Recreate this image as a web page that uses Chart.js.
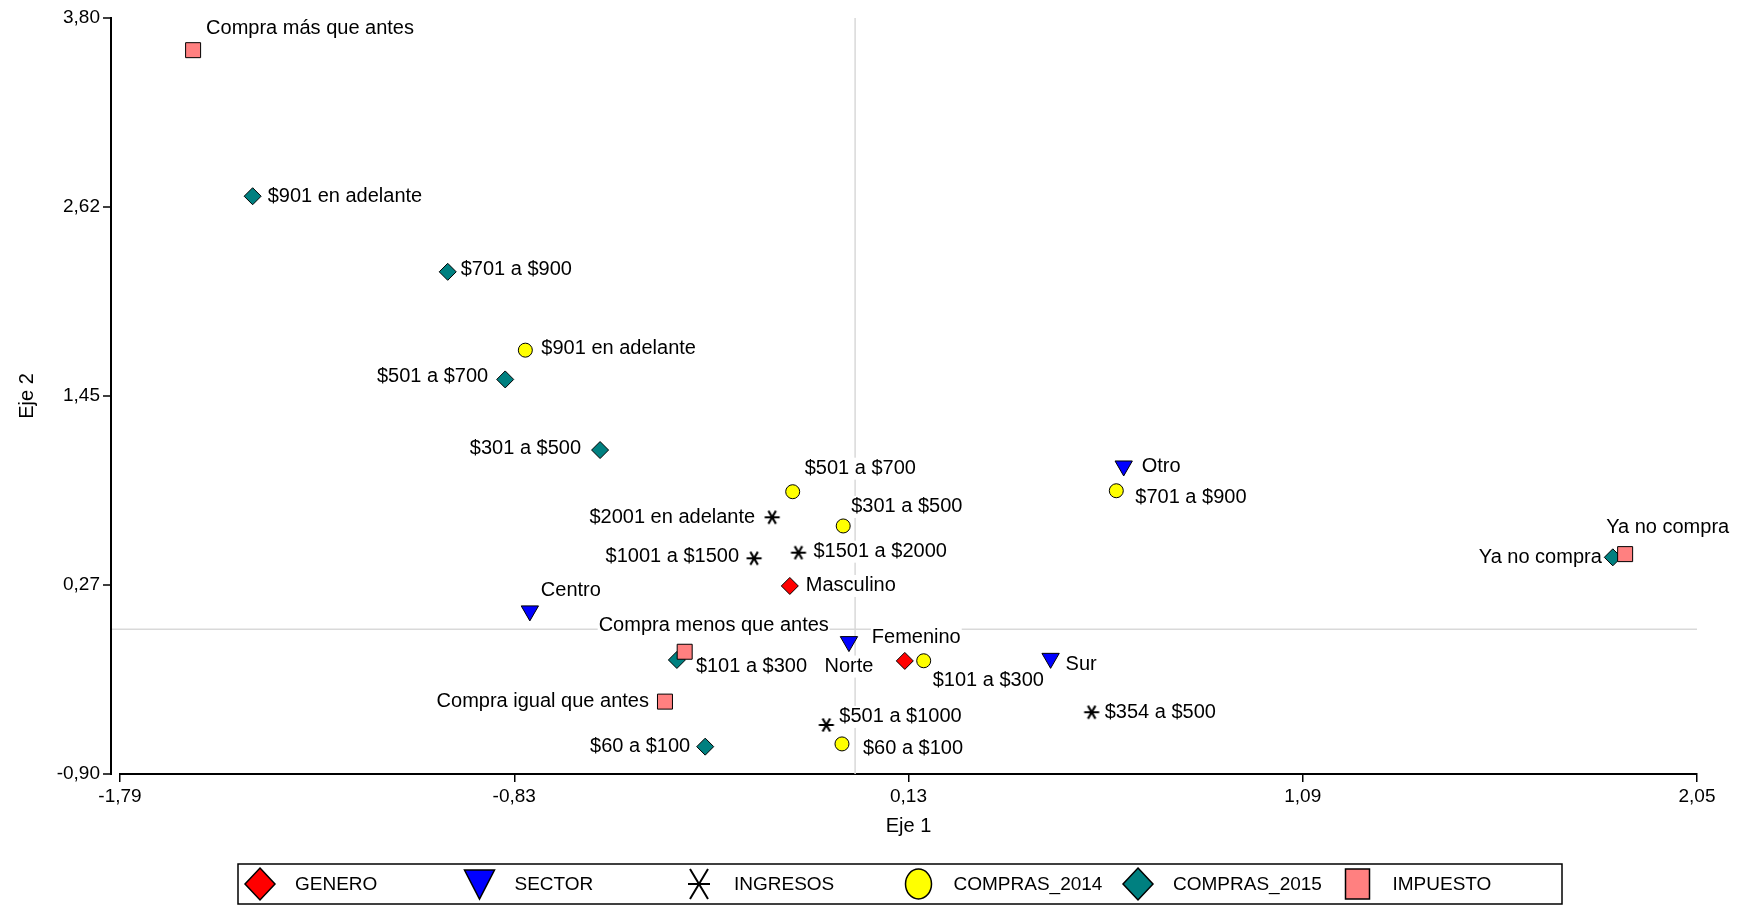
<!DOCTYPE html>
<html><head><meta charset="utf-8">
<script src="https://cdn.jsdelivr.net/npm/chart.js@4.4.0/dist/chart.umd.min.js"></script>
<style>html,body{margin:0;padding:0;background:#fff;} canvas{display:block;}</style>
</head><body>
<canvas id="c" width="1746" height="905"></canvas>
<script>
// ---------- axis ticks ----------
const xTickValues = [-1.79, -0.83, 0.13, 1.09, 2.05];
const xTickLabels = ['-1,79', '-0,83', '0,13', '1,09', '2,05'];
const yTickValues = [-0.90, 0.275, 1.45, 2.625, 3.80];
const yTickLabels = ['-0,90', '0,27', '1,45', '2,62', '3,80'];

// ---------- series ----------
const seriesNames = ['GENERO', 'SECTOR', 'INGRESOS', 'COMPRAS_2014', 'COMPRAS_2015', 'IMPUESTO'];

const generoCategories = ['Masculino', 'Femenino'];
const generoX = [-0.159, 0.121];
const generoY = [0.269, -0.197];

const sectorCategories = ['Otro', 'Centro', 'Norte', 'Sur'];
const sectorX = [0.654, -0.792, -0.015, 0.476];
const sectorY = [1.015, 0.114, -0.077, -0.181];

const ingresosCategories = ['$2001 en adelante', '$1001 a $1500', '$1501 a $2000', '$501 a $1000', '$354 a $500'];
const ingresosX = [-0.202, -0.246, -0.138, -0.070, 0.576];
const ingresosY = [0.696, 0.441, 0.476, -0.595, -0.516];

const compras2014Categories = ['$901 en adelante', '$501 a $700', '$301 a $500', '$701 a $900', '$101 a $300', '$60 a $100'];
const compras2014X = [-0.803, -0.152, -0.029, 0.636, 0.167, -0.032];
const compras2014Y = [1.735, 0.855, 0.642, 0.861, -0.196, -0.713];

const compras2015Categories = ['$901 en adelante', '$701 a $900', '$501 a $700', '$301 a $500', '$101 a $300', '$60 a $100', 'Ya no compra'];
const compras2015X = [-1.467, -0.992, -0.852, -0.621, -0.434, -0.365, 1.845];
const compras2015Y = [2.692, 2.222, 1.553, 1.114, -0.191, -0.730, 0.447];

const impuestoCategories = ['Compra más que antes', 'Compra menos que antes', 'Compra igual que antes', 'Ya no compra'];
const impuestoX = [-1.612, -0.415, -0.463, 1.875];
const impuestoY = [3.600, -0.140, -0.450, 0.467];

// ---------- label placement (style: offset in px from marker, text alignment) ----------
const labelPlacement = {
  GENERO: [[16, 0, 'left'], [-33, -23, 'left']],
  SECTOR: [[18, 1, 'left'], [11, -20, 'left'], [0, 25, 'center'], [15, 6, 'left']],
  INGRESOS: [[-17, 0, 'right'], [-15, -2, 'right'], [15, -1, 'left'], [13, -8, 'left'], [13, 0, 'left']],
  COMPRAS_2014: [[16, -2, 'left'], [12, -23, 'left'], [8, -19, 'left'], [19, 7, 'left'], [9, 20, 'left'], [21, 5, 'left']],
  COMPRAS_2015: [[15, 0, 'left'], [13, -2, 'left'], [-17, -3, 'right'], [-19, -2, 'right'], [19, 7, 'left'], [-15, 0, 'right'], [-11, 0, 'right']],
  IMPUESTO: [[13, -22, 'left'], [-86, -26, 'left'], [-16, 0, 'right'], [-19, -27, 'left']]
};

const FONT = '"Liberation Sans", Arial, Helvetica, sans-serif';

function pts(xs, ys) { return xs.map((v, i) => ({x: v, y: ys[i]})); }

// asterisk marker (horizontal line + two 60° lines)
function makeAsterisk() {
  const c = document.createElement('canvas');
  c.width = 18; c.height = 16;
  const g = c.getContext('2d');
  g.strokeStyle = '#000'; g.lineWidth = 2.2; g.lineCap = 'butt';
  const cx = 9, cy = 8, r = 7.5;
  g.beginPath();
  for (const a of [0, 60, 120]) {
    const rad = a * Math.PI / 180;
    g.moveTo(cx - r * Math.cos(rad), cy - r * Math.sin(rad));
    g.lineTo(cx + r * Math.cos(rad), cy + r * Math.sin(rad));
  }
  g.stroke();
  return c;
}
const asteriskImg = makeAsterisk();

const seriesStyle = {
  GENERO: {pointStyle: 'rectRot', radius: 8.5, color: '#FF0000', rotation: 0},
  SECTOR: {pointStyle: 'triangle', radius: 10, color: '#0000FF', rotation: 180},
  INGRESOS: {pointStyle: asteriskImg, radius: 8, color: '#000000', rotation: 0},
  COMPRAS_2014: {pointStyle: 'circle', radius: 7, color: '#FFFF00', rotation: 0},
  COMPRAS_2015: {pointStyle: 'rectRot', radius: 8.5, color: '#008080', rotation: 0},
  IMPUESTO: {pointStyle: 'rect', radius: 10.6, color: '#FF8080', rotation: 0}
};

const seriesData = {
  GENERO: [generoCategories, generoX, generoY],
  SECTOR: [sectorCategories, sectorX, sectorY],
  INGRESOS: [ingresosCategories, ingresosX, ingresosY],
  COMPRAS_2014: [compras2014Categories, compras2014X, compras2014Y],
  COMPRAS_2015: [compras2015Categories, compras2015X, compras2015Y],
  IMPUESTO: [impuestoCategories, impuestoX, impuestoY]
};

const datasets = seriesNames.map((name, idx) => {
  const [cats, xs, ys] = seriesData[name];
  const st = seriesStyle[name];
  return {
    label: name,
    categories: cats,
    data: pts(xs, ys),
    pointStyle: st.pointStyle,
    pointRadius: st.radius,
    pointRotation: st.rotation,
    backgroundColor: st.color,
    borderColor: '#000',
    pointBorderWidth: 1,
    showLine: false,
    order: seriesNames.length - idx
  };
});

function legendSymbol(ctx, name, cx, cy) {
  const st = seriesStyle[name];
  ctx.save();
  ctx.fillStyle = st.color; ctx.strokeStyle = '#000'; ctx.lineWidth = 1.5;
  ctx.beginPath();
  if (name === 'GENERO' || name === 'COMPRAS_2015') {
    ctx.moveTo(cx, cy - 16); ctx.lineTo(cx + 15, cy); ctx.lineTo(cx, cy + 16); ctx.lineTo(cx - 15, cy); ctx.closePath();
    ctx.fill(); ctx.stroke();
  } else if (name === 'SECTOR') {
    ctx.moveTo(cx - 15, cy - 14); ctx.lineTo(cx + 15, cy - 14); ctx.lineTo(cx, cy + 15); ctx.closePath();
    ctx.fill(); ctx.stroke();
  } else if (name === 'INGRESOS') {
    ctx.lineWidth = 2;
    ctx.moveTo(cx - 9, cy - 15); ctx.lineTo(cx + 9, cy + 15);
    ctx.moveTo(cx + 9, cy - 15); ctx.lineTo(cx - 9, cy + 15);
    ctx.moveTo(cx - 11, cy); ctx.lineTo(cx + 11, cy);
    ctx.stroke();
  } else if (name === 'COMPRAS_2014') {
    ctx.ellipse(cx, cy, 13, 15, 0, 0, Math.PI * 2);
    ctx.fill(); ctx.stroke();
  } else {
    ctx.rect(cx - 12, cy - 15, 24, 30);
    ctx.fill(); ctx.stroke();
  }
  ctx.restore();
}

const customDraw = {
  id: 'customDraw',
  beforeDatasetsDraw(chart) {
    const {ctx, chartArea: a, scales: {x, y}} = chart;
    const x0 = x.getPixelForValue(0), y0 = y.getPixelForValue(0);
    ctx.save();
    ctx.strokeStyle = '#d9d9d9'; ctx.lineWidth = 1.5;
    ctx.beginPath();
    ctx.moveTo(x0, a.top); ctx.lineTo(x0, a.bottom);
    ctx.moveTo(a.left - 8, y0); ctx.lineTo(a.right, y0);
    ctx.stroke();
    ctx.font = '20px ' + FONT;
    ctx.textBaseline = 'middle';
    chart.data.datasets.forEach((ds, di) => {
      const meta = chart.getDatasetMeta(di);
      const place = labelPlacement[ds.label];
      meta.data.forEach((pt, i) => {
        const [dx, dy, align] = place[i];
        const text = ds.categories[i];
        const w = ctx.measureText(text).width;
        const lx = pt.x + dx, ly = pt.y + dy;
        const left = align === 'left' ? lx : align === 'right' ? lx - w : lx - w / 2;
        ctx.fillStyle = '#fff';
        ctx.fillRect(left - 1, ly - 11, w + 2, 22);
        ctx.fillStyle = '#000';
        ctx.textAlign = align;
        ctx.fillText(text, lx, ly);
      });
    });
    ctx.restore();
  },
  afterDraw(chart) {
    const {ctx, chartArea: a, scales: {y}} = chart;
    ctx.save();
    // detached y axis line + ticks
    const ax = a.left - 9;
    ctx.strokeStyle = '#000'; ctx.lineWidth = 2;
    ctx.beginPath();
    ctx.moveTo(ax, y.getPixelForValue(y.max) - 1); ctx.lineTo(ax, y.getPixelForValue(y.min) + 1);
    ctx.stroke();
    ctx.lineWidth = 1.5;
    ctx.beginPath();
    y.ticks.forEach(t => { const py = y.getPixelForValue(t.value); ctx.moveTo(ax - 8, py); ctx.lineTo(ax, py); });
    ctx.stroke();
    // legend
    const boxL = 238, boxT = 864, boxR = 1562, boxB = 904;
    ctx.lineWidth = 1.5; ctx.strokeStyle = '#000';
    ctx.strokeRect(boxL, boxT, boxR - boxL, boxB - boxT);
    ctx.font = '19px ' + FONT; ctx.fillStyle = '#000';
    ctx.textBaseline = 'middle'; ctx.textAlign = 'left';
    const cy = 884;
    chart.data.datasets.forEach((ds, i) => {
      const cx = 260 + i * 219.5;
      legendSymbol(ctx, ds.label, cx, cy);
      ctx.fillStyle = '#000';
      ctx.fillText(ds.label, cx + 35, cy + 1);
    });
    ctx.restore();
  }
};

Chart.defaults.color = '#000';
Chart.defaults.font.family = FONT;

new Chart(document.getElementById('c'), {
  type: 'scatter',
  data: {datasets},
  plugins: [customDraw],
  options: {
    responsive: false,
    animation: false,
    events: [],
    layout: {padding: {left: 0, top: 18, right: 49, bottom: 61}, autoPadding: false},
    plugins: {legend: {display: false}, tooltip: {enabled: false}},
    scales: {
      x: {
        type: 'linear', min: -1.79, max: 2.05,
        afterBuildTicks: s => { s.ticks = xTickValues.map(v => ({value: v})); },
        afterFit: s => { s.height = 70; },
        ticks: {
          callback: (v, i) => xTickLabels[i],
          font: {size: 19}, padding: 3, maxRotation: 0, autoSkip: false
        },
        grid: {display: true, drawOnChartArea: false, drawTicks: true, tickLength: 8, color: '#000', lineWidth: 1.5},
        border: {display: true, color: '#000', width: 2},
        title: {display: true, text: 'Eje 1', font: {size: 20}, padding: {top: 0, bottom: 6}}
      },
      y: {
        type: 'linear', min: -0.90, max: 3.80,
        afterBuildTicks: s => { s.ticks = yTickValues.map(v => ({value: v})); },
        afterFit: s => { s.width = 120; s.paddingTop = 0; s.paddingBottom = 0; },
        ticks: {
          callback: (v, i) => yTickLabels[i],
          font: {size: 19}, padding: 20, autoSkip: false
        },
        grid: {display: false, drawTicks: false},
        border: {display: false},
        title: {display: true, text: 'Eje 2', font: {size: 20}, padding: {top: 15, bottom: 0}}
      }
    }
  }
});
</script>
</body></html>
